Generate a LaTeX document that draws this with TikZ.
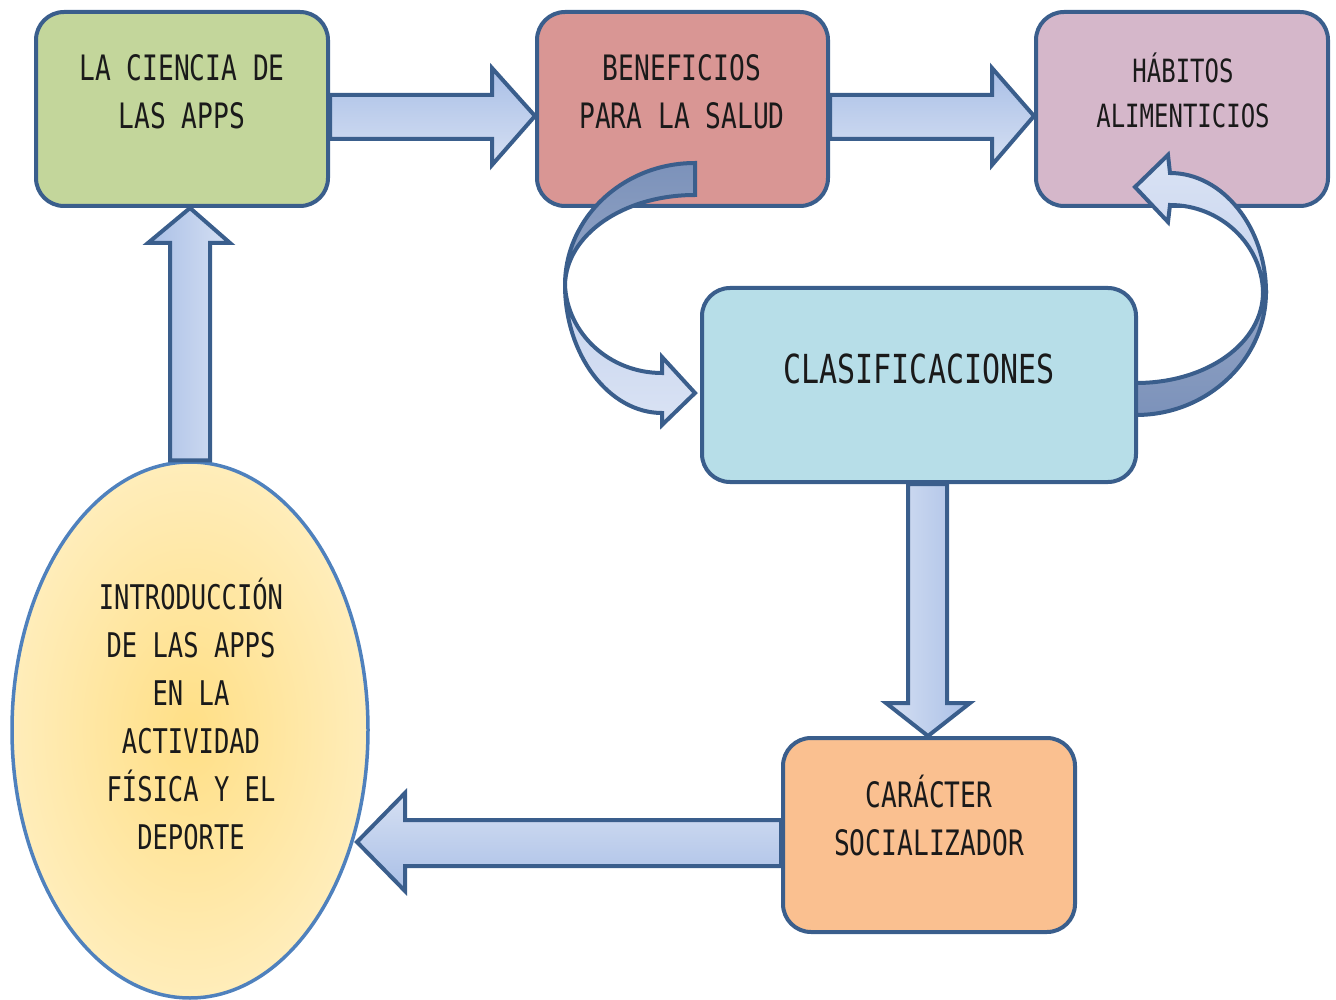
\documentclass[tikz,border=0pt]{standalone}
\usepackage{fontspec}
\newfontfamily\diafont[FakeStretch=0.75]{DejaVu Sans Mono}
\usetikzlibrary{calc,shapes.geometric}
\definecolor{bord}{HTML}{3A5E8C}
\definecolor{ebord}{HTML}{4F81BD}
\definecolor{cgreen}{HTML}{C3D69B}
\definecolor{cred}{HTML}{D99694}
\definecolor{cpurple}{HTML}{D5B7CA}
\definecolor{ccyan}{HTML}{B7DEE8}
\definecolor{corange}{HTML}{FAC090}
\definecolor{ayel}{HTML}{FFDF86}
\definecolor{byel}{HTML}{FFEDBA}
\definecolor{adk}{HTML}{A9BFE6}
\definecolor{alt}{HTML}{D6E0F3}
\definecolor{rdk}{HTML}{7C92BA}
\definecolor{rmd}{HTML}{93A5C6}
\definecolor{rlt}{HTML}{DAE3F4}
\definecolor{rlt2}{HTML}{C6D3EE}
\definecolor{txt}{HTML}{1A1A1A}
\begin{document}
\begin{tikzpicture}[x=1pt,y=-1pt,
  box/.style={draw=bord, line width=4pt, rounded corners=28pt, minimum width=292pt, minimum height=194pt, inner sep=0pt},
  lbl/.style={font=\diafont\fontsize{35}{48}\selectfont, align=center, text=txt, inner sep=0pt},
  barrow/.style={draw=bord, line width=4pt, line join=miter},
  rib/.style={draw=bord, line width=4pt, line join=miter}]
\useasboundingbox (0,0) rectangle (1336,1000);

% boxes
\node[box, fill=cgreen] (ciencia) at (182,109) {};
\node[box, fill=cred, minimum width=291pt] (benef) at (682.5,109) {};
\node[box, fill=cpurple] (habitos) at (1182,109) {};
\node[box, fill=ccyan, minimum width=434pt] (clasif) at (919,385) {};
\node[box, fill=corange] (caracter) at (929,835) {};
\node[ellipse, draw=ebord, line width=3.5pt, inner color=ayel, outer color=byel,
      minimum width=356pt, minimum height=536pt, inner sep=0pt] (intro) at (190,730) {};

% labels
\node[lbl] (t-ciencia) at (182,92) {LA CIENCIA DE\\LAS APPS};
\node[lbl] (t-benef) at (682,92) {BENEFICIOS\\PARA LA SALUD};
\node[lbl, font=\diafont\fontsize{32}{45}\selectfont] (t-habitos) at (1183,90) {HÁBITOS\\ALIMENTICIOS};
\node[lbl, font=\diafont\fontsize{40}{48}\selectfont] (t-clasif) at (919,369) {CLASIFICACIONES};
\node[lbl] (t-caracter) at (929,816) {CARÁCTER\\SOCIALIZADOR};
\node[lbl, font=\diafont\fontsize{34}{48}\selectfont] (t-intro) at (191,714)
  {INTRODUCCIÓN\\DE LAS APPS\\EN LA\\ACTIVIDAD\\FÍSICA Y EL\\DEPORTE};

% block arrows
\draw[barrow, top color=adk, bottom color=alt]
  ($(ciencia.east)+(0,-14)$) -- (492,95) -- (492,68) -- ($(benef.west)+(0,7)$)
  -- (492,165) -- (492,139) -- ($(ciencia.east)+(0,30)$) -- cycle;
\draw[barrow, top color=adk, bottom color=alt]
  ($(benef.east)+(0,-14)$) -- (992,95) -- (992,68) -- ($(habitos.west)+(0,7)$)
  -- (992,165) -- (992,139) -- ($(benef.east)+(0,30)$) -- cycle;
\draw[barrow, left color=adk, right color=alt]
  ($(intro.north)+(-20,0)$) -- (170,243) -- (148,243) -- ($(ciencia.south)+(8,0)$)
  -- (230,243) -- (210,243) -- ($(intro.north)+(20,0)$) -- cycle;
\draw[barrow, left color=alt, right color=adk]
  ($(clasif.south)+(-11,0)$) -- (908,703) -- (886,703) -- ($(caracter.north)+(-1,0)$)
  -- (970,703) -- (947,703) -- ($(clasif.south)+(28,0)$) -- cycle;
\draw[barrow, top color=alt, bottom color=adk]
  ($(caracter.west)+(0,-15)$) -- (405,820) -- (405,793) -- (357,842)
  -- (405,891) -- (405,866) -- ($(caracter.west)+(0,31)$) -- cycle;

% curved arrow benef -> clasif
\draw[rib, top color=rdk, bottom color=rmd]
  (695,163) .. controls (623,163) and (565,218) .. (565,285)
  .. controls (566,235) and (623,195) .. (695,195) -- cycle;
\draw[rib, top color=rlt2, bottom color=rlt]
  (565,285) .. controls (565,355) and (609,413) .. (662,413) -- (662,425)
  -- ($(clasif.west)+(-5,8)$) -- (662,357) -- (662,373)
  .. controls (609,373) and (567,333) .. (565,285) -- cycle;

% curved arrow clasif -> habitos
\draw[rib, top color=rlt, bottom color=rlt2]
  (1266,292) .. controls (1266,228) and (1223,173) .. (1170,173) -- (1168,155)
  -- (1135,187) -- (1168,222) -- (1170,205)
  .. controls (1221,205) and (1262,245) .. (1263,292) -- cycle;
\draw[rib, top color=rmd, bottom color=rdk]
  (1266,292) .. controls (1266,359) and (1208,415) .. (1136,415) -- (1136,383)
  .. controls (1207,383) and (1263,343) .. (1263,292) -- cycle;
\end{tikzpicture}
\end{document}
